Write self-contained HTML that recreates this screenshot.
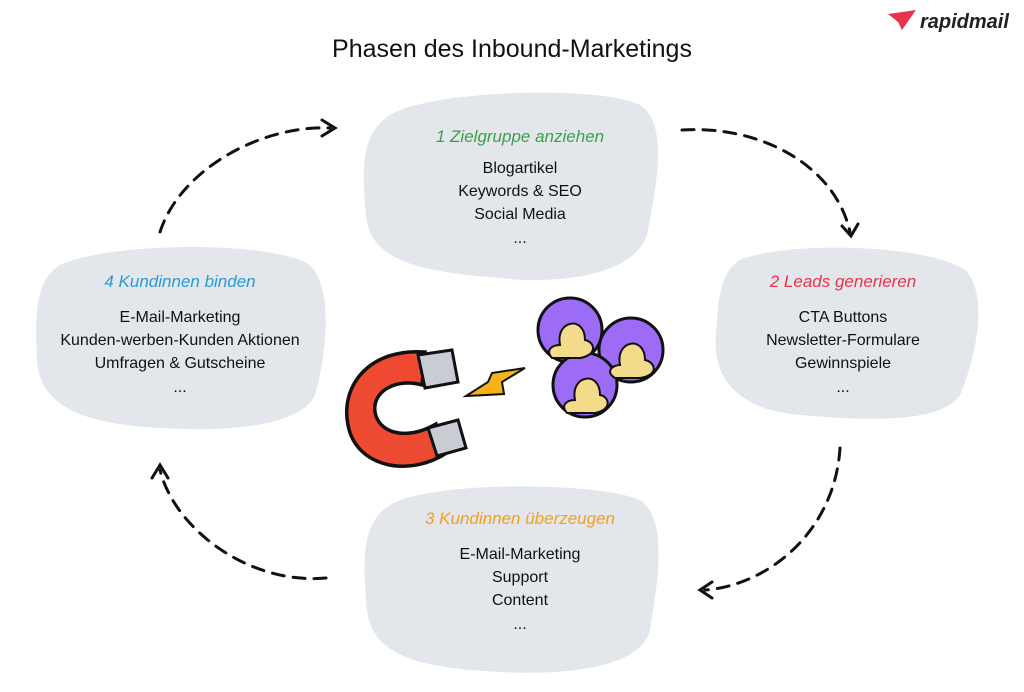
<!DOCTYPE html>
<html><head><meta charset="utf-8"><style>
body{margin:0;background:#fff;}
svg text{font-family:"Liberation Sans",sans-serif;}
</style></head><body>
<svg width="1024" height="687" viewBox="0 0 1024 687" xmlns="http://www.w3.org/2000/svg">
<rect width="1024" height="687" fill="#fff"/>
<path d="M888 14 L916 10 L902 30 L898 22 Z" fill="#e8344a"/>
<text x="920" y="28" font-size="20" font-weight="bold" font-style="italic" fill="#222">rapidmail</text>
<text x="512" y="57" font-size="25" text-anchor="middle" fill="#111">Phasen des Inbound-Marketings</text>
<g fill="#e3e6eb">
<path d="M390 115 C430 90 600 85 640 105 C670 125 655 190 648 230 C640 275 560 285 500 278 C430 272 370 265 366 215 C362 170 360 135 390 115Z"/>
<path d="M740 260 C790 240 930 245 965 270 C990 295 975 360 960 395 C940 425 860 420 800 415 C740 410 712 380 716 335 C718 300 720 272 740 260Z"/>
<path d="M390 505 C430 480 600 482 640 500 C670 520 656 590 650 630 C640 670 560 675 500 672 C430 668 372 660 367 610 C362 560 362 522 390 505Z"/>
<path d="M60 265 C110 242 270 240 310 265 C335 290 325 360 315 395 C300 428 220 432 160 428 C90 424 40 410 37 360 C35 315 35 280 60 265Z"/>
</g>
<g font-size="16" text-anchor="middle" fill="#111">
<text x="520" y="142" fill="#3aa14a" font-size="17" font-style="italic">1 Zielgruppe anziehen</text>
<text x="520" y="173">Blogartikel</text><text x="520" y="196">Keywords &amp; SEO</text><text x="520" y="219">Social Media</text><text x="520" y="243">...</text>
<text x="843" y="287" fill="#e8344a" font-size="17" font-style="italic">2 Leads generieren</text>
<text x="843" y="322">CTA Buttons</text><text x="843" y="345">Newsletter-Formulare</text><text x="843" y="368">Gewinnspiele</text><text x="843" y="392">...</text>
<text x="520" y="524" fill="#f2a01e" font-size="17" font-style="italic">3 Kundinnen überzeugen</text>
<text x="520" y="559">E-Mail-Marketing</text><text x="520" y="582">Support</text><text x="520" y="605">Content</text><text x="520" y="629">...</text>
<text x="180" y="287" fill="#2a9ad6" font-size="17" font-style="italic">4 Kundinnen binden</text>
<text x="180" y="322">E-Mail-Marketing</text><text x="180" y="345">Kunden-werben-Kunden Aktionen</text><text x="180" y="368">Umfragen &amp; Gutscheine</text><text x="180" y="392">...</text>
</g>
<g fill="none" stroke="#111" stroke-width="3" stroke-dasharray="12 9" stroke-linecap="round">
<path d="M160 232 C180 170 260 125 330 128"/>
<path d="M682 130 C760 125 835 165 850 232"/>
<path d="M840 448 C835 530 770 585 705 590"/>
<path d="M326 578 C250 585 175 530 160 470"/>
</g>
<g fill="none" stroke="#111" stroke-width="3" stroke-linecap="round">
<path d="M322 120 L335 128 L322 136"/><path d="M842 226 L851 236 L858 224"/>
<path d="M712 582 L700 590 L712 598"/><path d="M152 478 L160 465 L168 478"/>
</g>
<!-- magnet -->
<path d="M425 352 C370 348 340 385 348 425 C356 468 410 478 448 452 L436 424 C405 442 378 432 375 412 C372 390 398 378 422 385Z" fill="#ee4a31" stroke="#111" stroke-width="3.5"/>
<path d="M418 355 L452 350 L458 382 L425 388Z" fill="#c9ccd3" stroke="#111" stroke-width="3"/>
<path d="M428 428 L458 420 L466 448 L437 456Z" fill="#c9ccd3" stroke="#111" stroke-width="3"/>
<path d="M466 396 L488 382 L492 373 L525 368 L502 382 L504 394 Z" fill="#f7b21c" stroke="#111" stroke-width="2"/>
<g stroke="#111" stroke-width="3">
<circle cx="631" cy="350" r="32" fill="#9d6cf6"/>
<circle cx="570" cy="330" r="32" fill="#9d6cf6"/>
<circle cx="585" cy="385" r="32" fill="#9d6cf6"/>
</g>
<g fill="#f4db8c" stroke="#111" stroke-width="2">
<path d="M620 365 C615 340 645 335 645 360 C655 362 660 375 640 378 L615 378 C605 372 612 365 620 365Z"/>
<path d="M560 345 C555 320 585 315 585 340 C595 342 598 355 580 358 L552 358 C545 350 552 345 560 345Z"/>
<path d="M575 400 C570 375 600 370 600 395 C610 397 612 410 595 413 L567 413 C560 405 567 400 575 400Z"/>
</g>
</svg>
</body></html>
